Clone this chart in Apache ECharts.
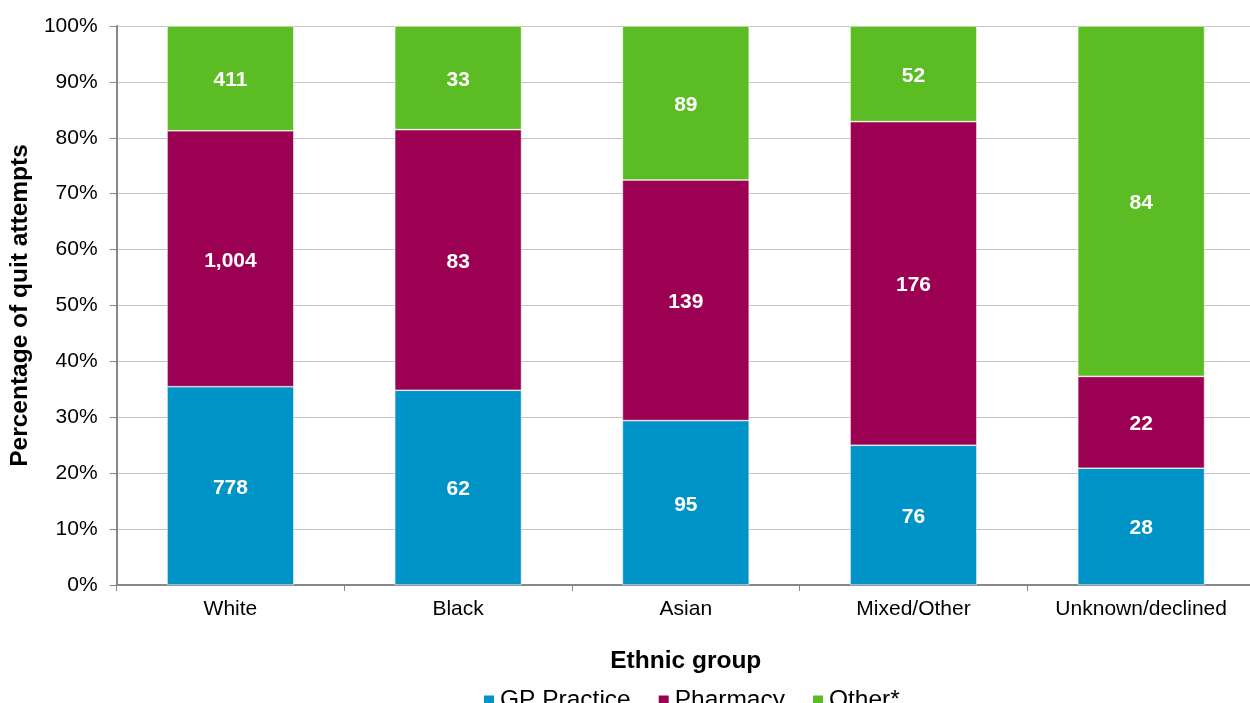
<!DOCTYPE html>
<html>
<head>
<meta charset="utf-8">
<script src="https://cdn.jsdelivr.net/npm/echarts@6/dist/echarts.min.js"></script>
<style>html,body{margin:0;padding:0;background:#fff;overflow:hidden;width:1250px;height:703px;}#c{width:1262px;height:703px;}</style>
</head>
<body>
<div id="c"></div>
<script>
const categories = ['White', 'Black', 'Asian', 'Mixed/Other', 'Unknown/declined'];
const gpPractice = [778, 62, 95, 76, 28];
const pharmacy = [1004, 83, 139, 176, 22];
const other = [411, 33, 89, 52, 84];
const yTicks = [0, 10, 20, 30, 40, 50, 60, 70, 80, 90, 100];

const totals = categories.map((_, i) => gpPractice[i] + pharmacy[i] + other[i]);
function pct(arr) {
  return arr.map((v, i) => ({ value: v / totals[i] * 100, count: v }));
}
const font = 'Liberation Sans, Arial, sans-serif';
const labelStyle = {
  show: true,
  color: '#fff',
  fontWeight: 'bold',
  fontSize: 21,
  fontFamily: font,
  offset: [0, 2],
  formatter: p => p.data.count.toLocaleString('en-GB')
};
function series(name, arr, color) {
  return {
    name: name,
    type: 'bar',
    stack: 'total',
    barWidth: '55.7%',
    data: pct(arr),
    itemStyle: { color: color, borderColor: '#fff', borderWidth: 0.6 },
    label: labelStyle
  };
}
const chart = echarts.init(document.getElementById('c'), null, { renderer: 'canvas' });
chart.setOption({
  animation: false,
  textStyle: { fontFamily: font },
  grid: { left: 115, top: 26, bottom: 118, right: 7, containLabel: false },
  legend: {
    top: 688,
    left: 482,
    padding: 0,
    itemWidth: 12,
    itemHeight: 12,
    itemGap: 26,
    icon: 'rect',
    textStyle: { fontSize: 24.5, color: '#000', fontFamily: font },
    data: ['GP Practice', 'Pharmacy', 'Other*']
  },
  xAxis: {
    type: 'category',
    data: categories,
    name: 'Ethnic group',
    nameLocation: 'middle',
    nameGap: 64,
    nameTextStyle: { fontSize: 24.5, fontWeight: 'bold', color: '#000', fontFamily: font },
    axisLine: { lineStyle: { color: '#888', width: 2 } },
    axisTick: { show: true, alignWithLabel: false, length: 6, lineStyle: { color: '#888' } },
    axisLabel: { fontSize: 21, color: '#000', margin: 14, fontFamily: font }
  },
  yAxis: {
    type: 'value',
    min: yTicks[0],
    max: yTicks[yTicks.length - 1],
    interval: 10,
    name: 'Percentage of quit attempts',
    nameLocation: 'middle',
    nameGap: 81,
    nameTextStyle: { fontSize: 24.5, fontWeight: 'bold', color: '#000', fontFamily: font },
    axisLine: { show: true, lineStyle: { color: '#888', width: 2 } },
    axisTick: { show: true, length: 7, lineStyle: { color: '#888' } },
    splitLine: { show: true, lineStyle: { color: '#c4c4c4', width: 1 } },
    axisLabel: { fontSize: 21, color: '#000', margin: 19, fontFamily: font, formatter: v => v + '%' }
  },
  series: [
    series('GP Practice', gpPractice, '#0093C8'),
    series('Pharmacy', pharmacy, '#9B0052'),
    series('Other*', other, '#5BBD23')
  ]
});
</script>
</body>
</html>
